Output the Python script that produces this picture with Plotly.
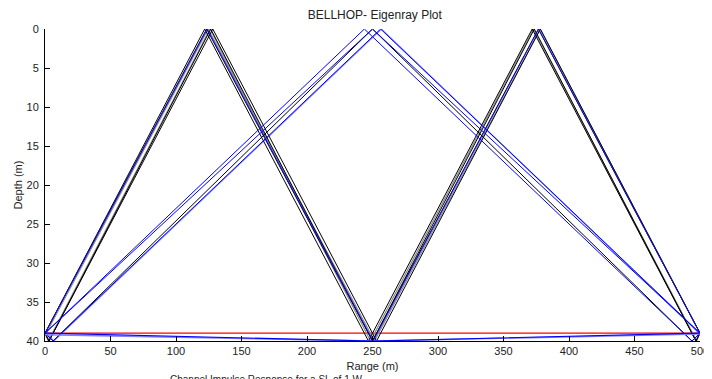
import plotly.graph_objects as go

# ---------------- data ----------------
x_ticks = [0, 50, 100, 150, 200, 250, 300, 350, 400, 450, 500]
y_ticks = [0, 5, 10, 15, 20, 25, 30, 35, 40]

# direct path (red)
direct_range = [0, 500]
direct_depth = [39, 39]

# bottom-only paths (blue, near horizontal)
bot1_range = [0, 250, 500]
bot1_depth = [39, 40, 39]
bot2_range = [0, 252, 500]
bot2_depth = [39.2, 40, 39.1]

# two-boundary, single-surface-bounce family
blue1_range = [0, 250, 500]
blue1_depth = [39, 0, 39]
blue2_range = [0, 6.2, 256.2, 500]
blue2_depth = [39, 40, 0, 39]
blue3_range = [0, 243.8, 493.8, 500]
blue3_depth = [39, 0, 40, 39]
black5_range = [0, 6.1, 250, 493.9, 500]
black5_depth = [39, 40, 0, 40, 39]
lblue1_range = [0, 6.8, 256.8, 500]
lblue1_depth = [38.9, 40, 0, 39.1]

# two-surface-bounce family
black1_range = [0, 123.4, 250, 376.6, 500]
black1_depth = [39, 0, 40, 0, 39]
black2_range = [0, 3.1, 128.1, 253.1, 378.1, 500]
black2_depth = [39, 40, 0, 40, 0, 39]
black3_range = [0, 121.9, 246.9, 371.9, 496.9, 500]
black3_depth = [39, 0, 40, 0, 40, 39]
black4_range = [0, 3.1, 126.5, 250, 373.5, 496.9, 500]
black4_depth = [39, 40, 0, 40, 0, 40, 39]
grey1_range = [0, 124.5, 251.5, 378.0, 500]
grey1_depth = [39.3, 0, 40, 0, 39]
grey2_range = [0, 2.5, 126.0, 248.5, 372.8, 497.5, 500]
grey2_depth = [39, 40, 0, 40, 0, 40, 38.8]
blue4_range = [0, 123.8, 250.5, 376.8, 500]
blue4_depth = [39, 0, 40, 0, 39]

rays = [
    (direct_range, direct_depth, "#ff0000", 1.3),
    (lblue1_range, lblue1_depth, "#8080ff", 1.2),
    (grey1_range, grey1_depth, "#8a8a8a", 1.2),
    (grey2_range, grey2_depth, "#8a8a8a", 1.2),
    (black1_range, black1_depth, "#000000", 1),
    (black2_range, black2_depth, "#000000", 1),
    (black3_range, black3_depth, "#000000", 1),
    (black4_range, black4_depth, "#000000", 1),
    (blue4_range, blue4_depth, "#1010ff", 1),
    (black5_range, black5_depth, "#000000", 1),
    (blue1_range, blue1_depth, "#0000ff", 1),
    (blue2_range, blue2_depth, "#0000ff", 1),
    (blue3_range, blue3_depth, "#0000ff", 1),
    (bot2_range, bot2_depth, "#8080ff", 1.5),
    (bot1_range, bot1_depth, "#0000ff", 1.2),
]

fig = go.Figure()
for r, z, c, w in rays:
    fig.add_trace(go.Scatter(x=r, y=z, mode="lines",
                             line=dict(color=c, width=w),
                             showlegend=False, hoverinfo="skip"))

font_family = "Liberation Sans, Arial, sans-serif"
txt = "#222222"
# the page body adds an 8px offset, so the figure is 8px smaller than the window
fig.update_layout(
    width=704, height=371,
    margin=dict(l=37, r=12, t=21, b=38),
    paper_bgcolor="white", plot_bgcolor="white",
    font=dict(family=font_family, size=11, color=txt),
    title=dict(text="BELLHOP- Eigenray Plot", x=0.521, xanchor="center",
               y=0.981, yanchor="middle", automargin=False,
               font=dict(family=font_family, size=12, color=txt)),
    xaxis=dict(range=[0, 500], tickvals=x_ticks, ticks="inside", ticklen=5,
               tickcolor="black", showline=True, linecolor="black",
               linewidth=1, showgrid=False, zeroline=False, mirror=False,
               automargin=False,
               title=dict(text="Range (m)", standoff=6,
                          font=dict(family=font_family, size=11, color=txt))),
    yaxis=dict(range=[40, 0], tickvals=y_ticks, ticks="inside", ticklen=5,
               tickcolor="black", showline=True, linecolor="black",
               linewidth=1, showgrid=False, zeroline=False, mirror=False,
               automargin=False, ticklabelstandoff=3,
               title=dict(text="Depth (m)", standoff=1,
                          font=dict(family=font_family, size=11, color=txt))),
)

fig.add_annotation(text="Channel Impulse Response for a SL of 1 W",
                   xref="paper", yref="paper", x=0.338, y=-0.098,
                   xanchor="center", yanchor="top", showarrow=False,
                   font=dict(family=font_family, size=10, color=txt))
fig.add_annotation(text="0", xref="paper", yref="paper", x=-0.0596, y=-0.032,
                   xanchor="right", yanchor="middle", showarrow=False,
                   font=dict(family=font_family, size=11, color=txt))

fig.write_html("out.html")
